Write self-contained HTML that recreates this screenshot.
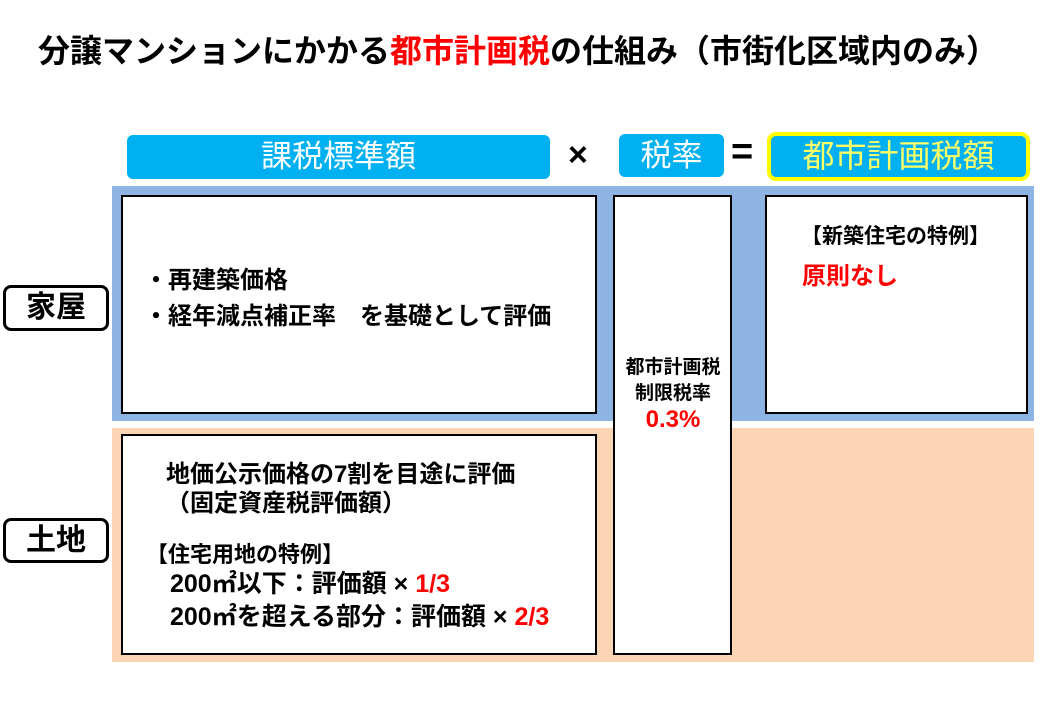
<!DOCTYPE html>
<html><head><meta charset="utf-8"><style>
body{margin:0;width:1040px;height:720px;background:#fff;position:relative;overflow:hidden;font-family:"Liberation Sans","Noto Sans CJK JP",sans-serif;}
.a{position:absolute;white-space:nowrap;}
.b{font-weight:bold;}
.hdr{position:absolute;background:#00B0F0;border-radius:6px;color:#fff;font-size:31px;text-align:center;}
.box{position:absolute;background:#fff;border:2px solid #000;box-sizing:border-box;}
.lbl{position:absolute;border:3px solid #000;border-radius:8px;box-sizing:border-box;background:#fff;font-weight:bold;font-size:30px;text-align:center;}
.r{color:#f00;}
</style></head><body>
<div class="a b" style="left:38px;top:31px;font-size:32px;line-height:40px;">分譲マンションにかかる<span class="r">都市計画税</span>の仕組み（市街化区域内のみ）</div>

<div class="hdr" style="left:127px;top:135px;width:423px;height:44px;line-height:44px;">課税標準額</div>
<div class="a b" style="left:568px;top:136px;font-size:34px;">×</div>
<div class="hdr" style="left:619px;top:134px;width:105px;height:43px;line-height:43px;">税率</div>
<div class="a b" style="left:731px;top:131px;font-size:38px;">=</div>
<div class="hdr" style="left:767px;top:132px;width:263px;height:49px;line-height:41px;border:4px solid #FFFF00;box-sizing:border-box;border-radius:9px;color:#FFFF66;font-size:32px;">都市計画税額</div>

<div class="a" style="left:112px;top:186px;width:922px;height:235px;background:#8EB4E3;"></div>
<div class="a" style="left:112px;top:428px;width:922px;height:234px;background:#FCD5B5;"></div>

<div class="box" style="left:121px;top:195px;width:476px;height:219px;"></div>
<div class="a b" style="left:144px;top:263px;font-size:24px;line-height:36px;">・再建築価格<br>・経年減点補正率　を基礎として評価</div>

<div class="box" style="left:613px;top:195px;width:119px;height:460px;"></div>
<div class="a b" style="left:612px;top:355px;width:122px;text-align:center;font-size:19px;line-height:26px;">都市計画税<br>制限税率<br><span class="r" style="font-size:24px;">0.3%</span></div>

<div class="box" style="left:765px;top:195px;width:263px;height:219px;"></div>
<div class="a b" style="left:801px;top:220px;font-size:21px;">【新築住宅の特例】</div>
<div class="a b r" style="left:802px;top:256px;font-size:24px;">原則なし</div>

<div class="box" style="left:121px;top:434px;width:476px;height:221px;"></div>
<div class="a b" style="left:166px;top:460px;font-size:24px;line-height:29px;">地価公示価格の7割を目途に評価<br>（固定資産税評価額）</div>
<div class="a b" style="left:146px;top:537px;font-size:22px;">【住宅用地の特例】</div>
<div class="a b" style="left:170px;top:568px;font-size:25px;line-height:33px;">200㎡以下：評価額 × <span class="r">1/3</span><br>200㎡を超える部分：評価額 × <span class="r">2/3</span></div>

<div class="lbl" style="left:3px;top:285px;width:106px;height:46px;line-height:40px;">家屋</div>
<div class="lbl" style="left:3px;top:518px;width:106px;height:45px;line-height:39px;">土地</div>
</body></html>
